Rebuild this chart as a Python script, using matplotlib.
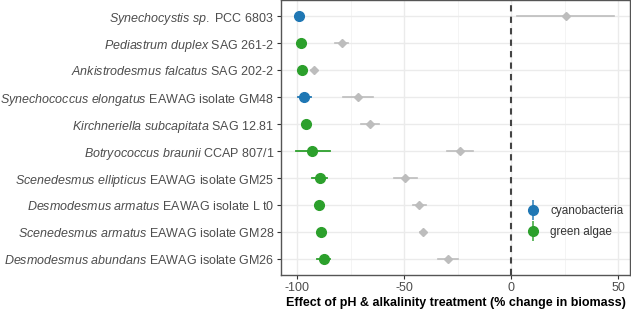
import numpy as np
import matplotlib
matplotlib.use('Agg')
import matplotlib.pyplot as plt
from matplotlib.lines import Line2D
from matplotlib.legend_handler import HandlerTuple

plt.rcParams['font.family'] = 'Liberation Sans'
plt.rcParams['mathtext.fontset'] = 'custom'
plt.rcParams['mathtext.it'] = 'Liberation Sans:italic'
plt.rcParams['mathtext.rm'] = 'Liberation Sans'

species = ["Synechocystis\\ sp.", "Pediastrum\\ duplex", "Ankistrodesmus\\ falcatus",
           "Synechococcus\\ elongatus", "Kirchneriella\\ subcapitata", "Botryococcus\\ braunii",
           "Scenedesmus\\ ellipticus", "Desmodesmus\\ armatus", "Scenedesmus\\ armatus",
           "Desmodesmus\\ abundans"]
strains = ["PCC 6803", "SAG 261-2", "SAG 202-2", "EAWAG isolate GM48", "SAG 12.81",
           "CCAP 807/1", "EAWAG isolate GM25", "EAWAG isolate L t0", "EAWAG isolate GM28",
           "EAWAG isolate GM26"]
group = ["cyanobacteria", "green algae", "green algae", "cyanobacteria", "green algae",
         "green algae", "green algae", "green algae", "green algae", "green algae"]

# main effect (pH & alkalinity), with interval
eff = [-99.2, -98.4, -97.8, -96.7, -95.9, -93.0, -89.6, -89.7, -88.9, -87.7]
eff_lo = [-99.8, -98.9, -98.3, -99.8, -96.6, -100.6, -93.0, -90.5, -90.0, -90.7]
eff_hi = [-98.6, -97.9, -97.3, -93.6, -95.2, -84.7, -86.0, -88.9, -87.8, -84.7]

# comparison effect (grey diamonds)
cmp_ = [25.3, -79.3, -92.2, -71.7, -66.2, -24.0, -49.5, -43.2, -41.5, -29.6]
cmp_lo = [2.8, -82.4, -93.5, -78.7, -70.1, -30.0, -54.8, -45.8, -42.8, -34.2]
cmp_hi = [47.9, -76.2, -91.0, -64.8, -62.0, -17.9, -44.2, -39.8, -40.2, -24.9]

colors = {"cyanobacteria": "#1f77b4", "green algae": "#2ca02c"}

fig = plt.figure(figsize=(6.31, 3.09), dpi=100)
ax = fig.add_axes([281/631, 1 - 275.3/309, 1 - 281/631 - 0.001, 275.3/309 - 0.001])

y = np.arange(len(species))
for v in [-100, -50, 0, 50]:
    ax.axvline(v, color='#ebebeb', lw=1.0, zorder=0)
for v in [-75, -25, 25]:
    ax.axvline(v, color='#f2f2f2', lw=0.6, zorder=0)
for yy in y:
    ax.axhline(yy, color='#ebebeb', lw=1.0, zorder=0)

ax.axvline(0, color='#444444', lw=1.5, ls=(0, (3, 2.5)), zorder=1)

for i in range(len(species)):
    ax.plot([cmp_lo[i], cmp_hi[i]], [i, i], color='#bdbdbd', lw=1.2, zorder=2)
    ax.plot(cmp_[i], i, marker='D', ms=4, color='#bdbdbd', zorder=3)
    c = colors[group[i]]
    ax.plot([eff_lo[i], eff_hi[i]], [i, i], color=c, lw=1.3, zorder=4)
    ax.plot(eff[i], i, marker='o', ms=7, color=c, zorder=5)

labels = ["$\\mathit{%s}$ %s" % (s, st) for s, st in zip(species, strains)]
ax.set_yticks(y)
ax.set_yticklabels(labels, fontsize=9.0, color='#4d4d4d')
ax.set_ylim(9.6, -0.6)
ax.set_xlim(-107.6, 55.6)
ax.set_xticks([-100, -50, 0, 50])
ax.set_xticklabels(['-100', '-50', '0', '50'], fontsize=9.0, color='#4d4d4d')
ax.tick_params(length=3, color='#333333', width=0.8, pad=2)
ax.set_xlabel('Effect of pH & alkalinity treatment (% change in biomass)',
              fontsize=9.0, fontweight='bold', labelpad=2)
for sp in ax.spines.values():
    sp.set_color('#555555')
    sp.set_linewidth(1.0)

handles = [(Line2D([0], [0], color=colors[g], marker='|', ms=15, mew=1.3, lw=0, alpha=0.8),
            Line2D([0], [0], color=colors[g], marker='o', ms=7, lw=0)) for g in colors]
leg = ax.legend(handles, list(colors), loc='center left', bbox_to_anchor=(0.702, 0.196),
                frameon=False, fontsize=8.5, handletextpad=0.85, labelspacing=0.75,
                handlelength=1.2, borderpad=0, borderaxespad=0,
                handler_map={tuple: HandlerTuple(ndivide=1, pad=0)})
for t in leg.get_texts():
    t.set_color('#333333')

fig.savefig('out.png', dpi=100)
